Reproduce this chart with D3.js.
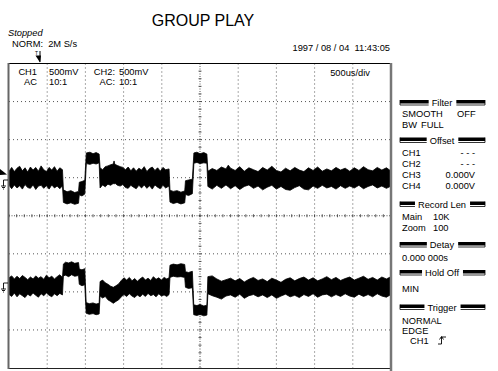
<!DOCTYPE html>
<html>
<head>
<meta charset="utf-8">
<title>GROUP PLAY</title>
<script src="https://d3js.org/d3.v7.min.js"></script>
<style>
  body { margin: 0; background: #fff; }
  text { font-family: "Liberation Sans", Arial, sans-serif; fill: #000; }
</style>
</head>
<body>
<div id="scope"></div>
<script>
// screen: 10 div x 500us, 8 div vertical (values below are in screen divisions)
var timeTicks = [0, 500, 1000, 1500, 2000, 2500, 3000, 3500, 4000, 4500, 5000]
var levelTicks = [-4, -3, -2, -1, 0, 1, 2, 3, 4]

// [time us, upper envelope, lower envelope]
var ch1Trace = [
  [0,1.17,0.80],[35,1.27,0.71],[70,1.16,0.81],[105,1.25,0.73],[140,1.30,0.79],[175,1.18,0.70],[210,1.26,0.82],
  [245,1.15,0.74],[280,1.28,0.72],[315,1.20,0.81],[350,1.27,0.69],[385,1.17,0.78],[420,1.31,0.80],[455,1.21,0.72],
  [490,1.16,0.79],[525,1.27,0.70],[560,1.20,0.81],[595,1.29,0.73],[630,1.17,0.78],[665,1.26,0.71],[700,1.21,0.79],
  [712,0.68,0.35],[760,0.63,0.31],[810,0.66,0.34],[860,0.61,0.30],[910,0.64,0.33],
  [920,0.88,0.55],[955,0.90,0.52],[992,0.93,0.57],
  [1012,1.65,1.37],[1060,1.67,1.35],[1100,1.63,1.38],[1140,1.66,1.36],[1180,1.62,1.39],
  [1192,1.26,0.73],[1225,1.21,0.81],[1260,1.29,0.76],[1295,1.31,0.83],[1330,1.34,0.80],[1365,1.36,0.85],[1375,1.44,0.83],
  [1385,1.35,0.86],[1420,1.32,0.80],[1455,1.29,0.78],[1490,1.27,0.82],[1525,1.21,0.74],[1560,1.28,0.72],[1595,1.18,0.80],
  [1630,1.26,0.75],[1665,1.17,0.71],[1700,1.25,0.80],[1735,1.20,0.73],[1770,1.29,0.81],[1805,1.16,0.72],[1840,1.24,0.79],
  [1875,1.28,0.70],[1910,1.19,0.81],[1945,1.26,0.75],[1980,1.17,0.71],[2015,1.27,0.80],[2050,1.21,0.73],[2095,1.23,0.78],
  [2107,0.67,0.36],[2150,0.64,0.32],[2200,0.66,0.35],[2250,0.62,0.31],[2300,0.65,0.34],
  [2310,0.92,0.56],[2350,0.94,0.53],[2400,0.96,0.58],
  [2420,1.65,1.38],[2460,1.67,1.40],[2500,1.63,1.37],[2550,1.66,1.39],[2590,1.62,1.38],
  [2603,1.17,0.77],[2660,1.24,0.70],[2720,1.19,0.80],[2780,1.28,0.72],[2840,1.23,0.81],[2870,1.33,0.76],[2900,1.25,0.71],
  [2960,1.19,0.79],[3020,1.29,0.69],[3080,1.17,0.77],[3140,1.26,0.81],[3200,1.21,0.72],[3260,1.16,0.78],[3320,1.27,0.68],
  [3380,1.20,0.75],[3440,1.30,0.80],[3500,1.19,0.70],[3560,1.15,0.77],[3620,1.25,0.69],[3680,1.18,0.67],[3740,1.27,0.74],
  [3800,1.20,0.79],[3860,1.16,0.70],[3920,1.26,0.68],[3980,1.19,0.78],[4040,1.28,0.72],[4100,1.17,0.80],[4160,1.23,0.73],
  [4220,1.18,0.77],[4280,1.27,0.70],[4340,1.20,0.79],[4400,1.25,0.72],[4460,1.17,0.78],[4520,1.26,0.73],[4580,1.19,0.80],
  [4640,1.29,0.71],[4700,1.21,0.77],[4760,1.18,0.81],[4820,1.27,0.73],[4880,1.20,0.78],[4940,1.26,0.72],[4990,1.19,0.77]
]

var ch2Trace = [
  [0,-1.63,-2.07],[35,-1.58,-2.12],[70,-1.66,-2.03],[105,-1.59,-2.13],[140,-1.65,-2.05],[175,-1.57,-2.10],[210,-1.62,-2.15],
  [245,-1.68,-2.06],[280,-1.61,-2.11],[315,-1.66,-2.03],[350,-1.58,-2.09],[385,-1.64,-2.14],[420,-1.60,-2.05],[455,-1.67,-2.10],
  [490,-1.56,-2.03],[525,-1.63,-2.09],[560,-1.59,-2.13],[595,-1.66,-2.05],[630,-1.60,-2.10],[665,-1.55,-2.04],[700,-1.62,-2.08],
  [712,-1.27,-1.58],[740,-1.22,-1.56],[780,-1.24,-1.60],[820,-1.21,-1.55],[860,-1.25,-1.59],[910,-1.23,-1.57],
  [920,-1.40,-1.80],[955,-1.42,-1.84],[992,-1.39,-1.81],
  [1010,-2.28,-2.56],[1050,-2.31,-2.59],[1100,-2.29,-2.57],[1140,-2.32,-2.60],[1180,-2.30,-2.58],
  [1192,-1.73,-2.11],[1225,-1.69,-2.16],[1260,-1.76,-2.12],[1295,-1.80,-2.21],[1330,-1.85,-2.25],[1365,-1.88,-2.30],
  [1400,-1.84,-2.25],[1435,-1.79,-2.21],[1470,-1.70,-2.13],[1505,-1.63,-2.07],[1540,-1.69,-2.12],[1575,-1.62,-2.05],
  [1610,-1.71,-2.11],[1645,-1.65,-2.15],[1680,-1.72,-2.08],[1715,-1.66,-2.13],[1750,-1.61,-2.06],[1785,-1.69,-2.12],
  [1820,-1.64,-2.04],[1855,-1.70,-2.10],[1890,-1.60,-2.07],[1925,-1.67,-2.13],[1960,-1.63,-2.05],[1995,-1.69,-2.11],
  [2030,-1.62,-2.08],[2065,-1.66,-2.12],[2095,-1.63,-2.07],
  [2107,-1.30,-1.62],[2150,-1.27,-1.59],[2200,-1.29,-1.61],[2250,-1.26,-1.60],[2300,-1.28,-1.62],
  [2310,-1.47,-1.88],[2350,-1.49,-1.91],[2400,-1.46,-1.89],
  [2418,-2.34,-2.60],[2460,-2.36,-2.62],[2500,-2.33,-2.59],[2550,-2.37,-2.63],[2590,-2.35,-2.61],
  [2603,-1.60,-2.05],[2660,-1.58,-2.10],[2720,-1.66,-2.14],[2780,-1.72,-2.19],[2840,-1.68,-2.11],[2900,-1.64,-2.08],
  [2960,-1.71,-2.14],[3020,-1.65,-2.06],[3080,-1.74,-2.17],[3140,-1.67,-2.10],[3200,-1.62,-2.07],[3260,-1.70,-2.13],
  [3320,-1.66,-2.08],[3380,-1.73,-2.15],[3440,-1.64,-2.08],[3500,-1.69,-2.17],[3560,-1.75,-2.11],[3620,-1.67,-2.06],
  [3680,-1.63,-2.13],[3740,-1.71,-2.09],[3800,-1.65,-2.15],[3860,-1.61,-2.07],[3920,-1.69,-2.12],[3980,-1.63,-2.05],
  [4040,-1.71,-2.14],[4100,-1.66,-2.08],[4160,-1.60,-2.06],[4220,-1.68,-2.13],[4280,-1.62,-2.07],[4340,-1.70,-2.12],
  [4400,-1.65,-2.05],[4460,-1.61,-2.11],[4520,-1.69,-2.14],[4580,-1.64,-2.06],[4640,-1.59,-2.12],[4700,-1.67,-2.07],
  [4760,-1.62,-2.13],[4820,-1.69,-2.05],[4880,-1.61,-2.11],[4940,-1.66,-2.14],[4990,-1.61,-2.08]
]

var headerTexts = ["GROUP PLAY", "Stopped", "NORM:\u00a0 2M S/s", "1997 / 08 / 04\u00a0 11:43:05", "500us/div"]
var chLabels = [["CH1", "500mV", "AC", "10:1"], ["CH2:", "500mV", "AC:", "10:1"]]

// side panel: [header, header y, rows of [left, right, baseline y]]
var panelGroups = [
  ["Filter", 103, [["SMOOTH", "OFF", 117], ["BW", "FULL", 128]]],
  ["Offset", 140.5, [["CH1", "- - -", 156], ["CH2", "- - -", 167], ["CH3", "0.000V", 178], ["CH4", "0.000V", 189]]],
  ["Record Len", 204.5, [["Main", "10K", 220], ["Zoom", "100", 231]]],
  ["Detay", 245, [["0.000 000s", "", 261]]],
  ["Hold Off", 273, [["MIN", "", 291.5]]],
  ["Trigger", 307.5, [["NORMAL", "", 324], ["EDGE", "", 334], ["CH1", "", 344]]]
]
var panelRight = { "Filter": [457, 421], "Offset": [475, null], "Record Len": [433, null] }

var W = 498, H = 371
var FS = "9.3px"
var svg = d3.select("#scope").append("svg").attr("width", W).attr("height", H)

var x = d3.scaleLinear().domain([0, 5000]).range([9, 391])
var y = d3.scaleLinear().domain([-4, 4]).range([368, 63.5])

// grid
var grid = svg.append("g")
grid.selectAll(".vg").data(timeTicks.slice(1, -1)).enter().append("line")
    .attr("x1", d => x(d)).attr("x2", d => x(d))
    .attr("y1", y(4)).attr("y2", y(-4))
    .style("stroke", "#555").style("stroke-width", 1)
    .style("stroke-dasharray", d => d == 2500 ? "1,1.5" : "1,3")
grid.selectAll(".hg").data(levelTicks.slice(1, -1)).enter().append("line")
    .attr("y1", d => y(d)).attr("y2", d => y(d))
    .attr("x1", x(0)).attr("x2", x(5000))
    .style("stroke", "#555").style("stroke-width", 1)
    .style("stroke-dasharray", d => d == 0 ? "1,1.5" : "1,3")
// minor ticks on the centre lines
var minorX = d3.range(0, 5001, 100), minorY = d3.range(-4, 4.01, 0.2)
grid.selectAll(".mx").data(minorX).enter().append("line")
    .attr("x1", d => x(d)).attr("x2", d => x(d))
    .attr("y1", y(0) - 1.5).attr("y2", y(0) + 1.5)
    .style("stroke", "#333").style("stroke-width", 0.8)
grid.selectAll(".my").data(minorY).enter().append("line")
    .attr("y1", d => y(d)).attr("y2", d => y(d))
    .attr("x1", x(2500) - 1.5).attr("x2", x(2500) + 1.5)
    .style("stroke", "#333").style("stroke-width", 0.8)

// traces
var band = d3.area().x(d => x(d[0])).y0(d => y(d[2])).y1(d => y(d[1]))
;[ch1Trace, ch2Trace].forEach(function (tr) {
  svg.append("path").datum(tr).attr("d", band)
     .style("fill", "#000").style("stroke", "#000").style("stroke-width", 0.8)
})

// frame
svg.append("line").attr("x1", 8).attr("x2", 391).attr("y1", 63.5).attr("y2", 63.5).style("stroke", "#000")
svg.append("line").attr("x1", 8).attr("x2", 391).attr("y1", 368.5).attr("y2", 368.5).style("stroke", "#222")
svg.append("line").attr("x1", 8.5).attr("x2", 8.5).attr("y1", 63).attr("y2", 369).style("stroke", "#666").style("stroke-width", 2)
svg.append("line").attr("x1", 391).attr("x2", 391).attr("y1", 63).attr("y2", 371).style("stroke", "#777").style("stroke-width", 2.5)

// header texts
svg.append("text").attr("x", 203).attr("y", 26).attr("text-anchor", "middle")
   .style("font-size", "16px").text(headerTexts[0])
svg.append("text").attr("x", 8).attr("y", 36).style("font-size", FS).style("font-style", "italic").text(headerTexts[1])
svg.append("text").attr("x", 12).attr("y", 46.5).style("font-size", FS).text(headerTexts[2])
svg.append("text").attr("x", 390).attr("y", 51).attr("text-anchor", "end").style("font-size", FS).text(headerTexts[3])
svg.append("text").attr("x", 370).attr("y", 75.5).attr("text-anchor", "end").style("font-size", FS).text(headerTexts[4])

// channel settings
var chX = [[37, 49], [115, 119]]
chLabels.forEach(function (c, i) {
  svg.append("text").attr("x", chX[i][0]).attr("y", 74.5).attr("text-anchor", "end").style("font-size", FS).text(c[0])
  svg.append("text").attr("x", chX[i][1]).attr("y", 74.5).style("font-size", FS).text(c[1])
  svg.append("text").attr("x", chX[i][0]).attr("y", 84.5).attr("text-anchor", "end").style("font-size", FS).text(c[2])
  svg.append("text").attr("x", chX[i][1]).attr("y", 84.5).style("font-size", FS).text(c[3])
})

// trigger position marker
svg.append("text").attr("x", 35).attr("y", 54.5).style("font-size", "5px").text("T")
svg.append("line").attr("x1", 40).attr("x2", 40).attr("y1", 51).attr("y2", 62).style("stroke", "#000")
svg.append("path").attr("d", "M35.5,55.5 L41,55.5 L40,62.5 Z").style("fill", "#000")

// left markers: trigger level and ground symbols
svg.append("path").attr("d", "M0,169 L7,174.5 L0,175 Z").style("fill", "#000")
function ground(gy) {
  var g = svg.append("g").style("stroke", "#000").style("fill", "none").style("stroke-width", 0.9)
  g.append("path").attr("d", "M8," + gy + " H3.5 V" + (gy + 6))
  g.append("path").attr("d", "M1," + (gy + 6) + " H6 M2," + (gy + 7.5) + " H5 M3," + (gy + 9) + " H4")
}
ground(180)
ground(283)

// side panel
panelGroups.forEach(function (grp) {
  var hy = grp[1]
  var t = svg.append("text").attr("x", 442).attr("y", hy + 3.3).attr("text-anchor", "middle")
             .style("font-size", FS).text(grp[0])
  var tw = t.node().getComputedTextLength()
  var l0 = 400, l1 = 442 - tw / 2 - 3, r0 = 442 + tw / 2 + 4, r1 = 485
  svg.append("rect").attr("x", l0).attr("y", hy - 3).attr("width", l1 - l0).attr("height", 3.5).style("fill", "#000")
  svg.append("path").attr("d", "M" + l0 + "," + (hy - 3) + " V" + (hy + 2) + " H" + l1)
     .style("stroke", "#000").style("stroke-width", 0.8).style("fill", "none")
  svg.append("rect").attr("x", r0).attr("y", hy - 3).attr("width", r1 - r0).attr("height", 3.5).style("fill", "#000")
  svg.append("path").attr("d", "M" + r0 + "," + (hy + 2) + " H" + r1 + " V" + (hy - 3))
     .style("stroke", "#000").style("stroke-width", 0.8).style("fill", "none")
  grp[2].forEach(function (r, k) {
    var lx = (grp[0] == "Trigger" && r[0] == "CH1") ? 410 : 402
    svg.append("text").attr("x", lx).attr("y", r[2]).style("font-size", FS).text(r[0])
    if (!r[1]) return
    if (grp[0] == "Filter") {
      svg.append("text").attr("x", panelRight["Filter"][k]).attr("y", r[2]).style("font-size", FS).text(r[1])
    } else if (grp[0] == "Record Len") {
      svg.append("text").attr("x", panelRight["Record Len"][0]).attr("y", r[2]).style("font-size", FS).text(r[1])
    } else {
      svg.append("text").attr("x", panelRight["Offset"][0]).attr("y", r[2]).attr("text-anchor", "end")
         .style("font-size", FS).text(r[1])
    }
  })
})

// rising edge symbol next to trigger source
svg.append("path").attr("d", "M438,344 H441.5 V337 H446 M439.5,339.5 L441.5,336.5 L443.5,339.5")
   .style("stroke", "#000").style("stroke-width", 0.9).style("fill", "none")
</script>
</body>
</html>
